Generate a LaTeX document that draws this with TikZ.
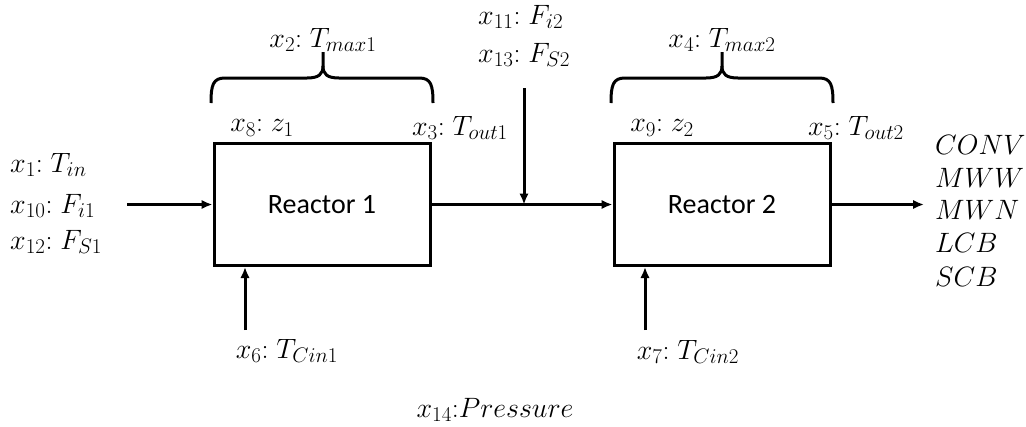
\RequirePackage{fix-cm}
\documentclass[tikz,border=0pt]{standalone}
\usepackage{fontspec}
\newfontfamily\reactorfont{Carlito}
\DeclareMathSizes{28}{28}{21}{16}
\usetikzlibrary{arrows.meta}
\newcommand{\lab}[2]{$#1{:}\;#2$}
\begin{document}
\begin{tikzpicture}[x=1pt,y=-1pt,
  box/.style={draw, line width=3pt, minimum width=216pt, minimum height=122pt, inner sep=0pt, font=\reactorfont\fontsize{28}{32}\selectfont},
  lbl/.style={inner sep=0pt, font=\fontsize{28}{32}\selectfont},
  arr/.style={line width=3pt, -{Latex[length=11pt,width=9.5pt]}},
  brc/.style={line width=3pt, line cap=butt}]
\useasboundingbox (0,0) rectangle (1026,426);

% reactors
\node[box] (r1) at (322,204.5) {Reactor 1};
\node[box] (r2) at (722,204.5) {Reactor 2};

% braces
\coordinate (b1l) at (211,103);
\coordinate (b1t) at (323,52);
\coordinate (b1r) at (433,103);
\coordinate (b2l) at (611,103);
\coordinate (b2t) at (722,52);
\coordinate (b2r) at (833,103);
\foreach \l/\t/\r in {b1l/b1t/b1r, b2l/b2t/b2r}{
  \draw[brc] (\l) .. controls ([yshift=18pt]\l) and ([xshift=2pt,yshift=25pt]\l) .. ([xshift=14pt,yshift=25pt]\l)
    -- ([xshift=-16pt,yshift=-26pt]\t) .. controls ([xshift=-4pt,yshift=-26pt]\t) and ([yshift=-22pt]\t) .. ([yshift=-14pt]\t)
    -- (\t);
  \draw[brc] ([yshift=-14pt]\t) .. controls ([yshift=-22pt]\t) and ([xshift=4pt,yshift=-26pt]\t) .. ([xshift=16pt,yshift=-26pt]\t)
    -- ([xshift=-14pt,yshift=25pt]\r) .. controls ([xshift=-2pt,yshift=25pt]\r) and ([yshift=18pt]\r) .. (\r);
}

% top labels
\node[lbl] (t1) at (323,40) {\lab{x_2}{T_{max1}}};
\node[lbl] (t2) at (722,40) {\lab{x_4}{T_{max2}}};
\node[lbl] (z1) at (262,128) {\lab{x_8}{z_1}};
\node[lbl] (to1) at (460,128) {\lab{x_3}{T_{out1}}};
\node[lbl] (z2) at (662,128) {\lab{x_9}{z_2}};
\node[lbl] (to2) at (856,128) {\lab{x_5}{T_{out2}}};

% left inputs
\node[lbl, anchor=west] (i1) at (10,165) {\lab{x_1}{T_{in}}};
\node[lbl, anchor=west] (i10) at (10,206) {\lab{x_{10}}{F_{i1}}};
\node[lbl, anchor=west] (i12) at (10,242) {\lab{x_{12}}{F_{S1}}};
\coordinate (inl) at (127,204.5);
\draw[arr] (inl) -- (r1.west);

% middle
\node[lbl, anchor=west] (m11) at (478,17) {\lab{x_{11}}{F_{i2}}};
\node[lbl, anchor=west] (m13) at (478,55) {\lab{x_{13}}{F_{S2}}};
\coordinate (vtop) at (524,88);
\coordinate (j) at (524,204.5);
\draw[line width=3pt] (r1.east) -- (j);
\draw[arr] (j) -- (r2.west);
\draw[arr] (vtop) -- (j);

% outputs
\coordinate (outr) at (924,204.5);
\draw[arr] (r2.east) -- (outr);
\node[lbl, anchor=west] (o1) at (935,145) {$CONV$};
\node[lbl, anchor=west] (o2) at (935,178) {$MWW$};
\node[lbl, anchor=west] (o3) at (935,210) {$MWN$};
\node[lbl, anchor=west] (o4) at (935,243) {$LCB$};
\node[lbl, anchor=west] (o5) at (935,277) {$SCB$};

% bottom
\node[lbl] (c1) at (287,351) {\lab{x_6}{T_{Cin1}}};
\node[lbl] (c2) at (688,352) {\lab{x_7}{T_{Cin2}}};
\coordinate (c1b) at (245,330);
\coordinate (c2b) at (645,330);
\draw[arr] (c1b) -- (c1b |- r1.south);
\draw[arr] (c2b) -- (c2b |- r2.south);

\node[lbl] (p) at (495,410) {$x_{14}{:}Pressure$};
\end{tikzpicture}
\end{document}
